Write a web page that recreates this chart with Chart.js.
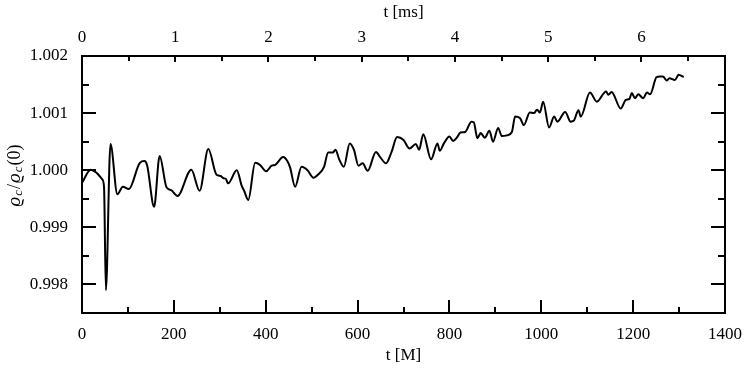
<!DOCTYPE html>
<html>
<head>
<meta charset="utf-8">
<script src="https://cdn.jsdelivr.net/npm/chart.js@4/dist/chart.umd.min.js"></script>
<style>
  body { margin: 0; background: #fff; }
  #wrap { width: 747px; height: 374px; }
</style>
</head>
<body>
<div id="wrap"><canvas id="rhoChart" width="747" height="374"></canvas></div>
<script>
// t [M] and central density normalised to its initial value
const tM = [0, 19, 31, 44, 48, 52, 62, 77, 89, 102, 126, 136, 142, 157, 169, 184, 194, 208, 238, 256,
    275, 293, 302, 308, 313, 318, 337, 348, 353, 362, 377, 388, 401, 413, 420, 438, 447, 453, 464, 478,
    491, 504, 515, 527, 536, 546, 552, 560, 570, 583, 592, 602, 611, 622, 640, 650, 662, 674, 686, 700,
    713, 727, 734, 743, 760, 774, 779, 788, 800, 808, 816, 824, 834, 848, 853, 861, 868, 877, 887, 895,
    906, 914, 925, 936, 943, 954, 962, 975, 984, 991, 997, 1004, 1017, 1028, 1035, 1052, 1064, 1071, 1081, 1086,
    1106, 1121, 1141, 1146, 1153, 1173, 1184, 1192, 1197, 1204, 1211, 1222, 1230, 1237, 1251, 1258, 1265, 1273, 1279, 1291,
    1299, 1310];
const rhoRatio = [0.99978, 1.00001, 0.99996, 0.99984, 0.99970, 0.99790, 1.00046, 0.99958, 0.99971, 0.99967,
    1.00013, 1.00016, 1.00008, 0.99936, 1.00025, 0.99970, 0.99965, 0.99955, 1.00001, 0.99964,
    1.00037, 0.99992, 0.99990, 0.99986, 0.99985, 0.99977, 1.00000, 0.99972, 0.99964, 0.99948,
    1.00013, 1.00009, 0.99998, 1.00008, 1.00009, 1.00023, 1.00016, 1.00005, 0.99971, 1.00006,
    1.00000, 0.99987, 0.99993, 1.00006, 1.00031, 1.00031, 1.00036, 1.00019, 1.00006, 1.00047,
    1.00036, 1.00008, 1.00012, 0.99999, 1.00032, 1.00022, 1.00012, 1.00032, 1.00058, 1.00053,
    1.00038, 1.00046, 1.00036, 1.00063, 1.00019, 1.00047, 1.00034, 1.00047, 1.00059, 1.00051,
    1.00057, 1.00066, 1.00067, 1.00085, 1.00084, 1.00056, 1.00065, 1.00057, 1.00069, 1.00050,
    1.00074, 1.00060, 1.00061, 1.00067, 1.00094, 1.00091, 1.00079, 1.00101, 1.00100, 1.00106,
    1.00101, 1.00120, 1.00075, 1.00094, 1.00085, 1.00102, 1.00085, 1.00087, 1.00105, 1.00094,
    1.00136, 1.00120, 1.00138, 1.00132, 1.00137, 1.00108, 1.00123, 1.00125, 1.00135, 1.00126,
    1.00133, 1.00126, 1.00136, 1.00133, 1.00163, 1.00164, 1.00164, 1.00157, 1.00161, 1.00158,
    1.00167, 1.00163];

// tick labels
const xTicksM = [0, 200, 400, 600, 800, 1000, 1200, 1400];
const xTicksMs = [0, 1, 2, 3, 4, 5, 6];
const yTicks = [0.998, 0.999, 1.000, 1.001, 1.002];

const M_PER_MS = 203.0; // 1 ms in units of M (solar mass)
const FONT = 'Liberation Serif, DejaVu Serif, serif';

const points = tM.map((t, i) => ({ x: t, y: rhoRatio[i] }));

// inward tick marks (major + minor) on all four sides, plus the y title
const inwardTicks = {
    id: 'inwardTicks',
    afterDraw(chart) {
        const ctx = chart.ctx;
        const { x, x2, y, y2 } = chart.scales;
        ctx.save();
        ctx.strokeStyle = '#000';
        ctx.lineWidth = 2;
        ctx.beginPath();
        for (let v = 0; v <= 1400; v += 100) {
            const px = Math.round(x.getPixelForValue(v));
            const len = v % 200 === 0 ? 13 : 6;
            ctx.moveTo(px, x.top); ctx.lineTo(px, x.top - len);
        }
        for (let v = 0; v <= 6.5; v += 0.5) {
            const px = Math.round(x2.getPixelForValue(v));
            const len = Number.isInteger(v) ? 6 : 5;
            ctx.moveTo(px, x2.bottom); ctx.lineTo(px, x2.bottom + len);
        }
        for (let k = 0; k <= 9; k++) {
            const v = 0.9975 + k * 0.0005;
            const len = k % 2 === 1 ? 14 : 7;
            const py = Math.round(y.getPixelForValue(v));
            ctx.moveTo(y.right, py); ctx.lineTo(y.right + len, py);
            ctx.moveTo(y2.left, py); ctx.lineTo(y2.left - len, py);
        }
        ctx.stroke();

        // y axis label: rho_c / rho_c(0)
        const parts = [
            ['ϱ', 'italic 19px ' + FONT, 0],
            ['c', 'italic 13px ' + FONT, 4],
            ['/', '18px ' + FONT, 0],
            ['ϱ', 'italic 19px ' + FONT, 0],
            ['c', 'italic 13px ' + FONT, 4],
            ['(0)', '18px ' + FONT, 0]
        ];
        let total = 0;
        parts.forEach(p => { ctx.font = p[1]; total += ctx.measureText(p[0]).width + 1; });
        ctx.translate(15, 175);
        ctx.rotate(-Math.PI / 2);
        ctx.fillStyle = '#000';
        ctx.textBaseline = 'middle';
        let cx = -total / 2;
        parts.forEach(p => {
            ctx.font = p[1];
            ctx.fillText(p[0], cx, p[2]);
            cx += ctx.measureText(p[0]).width + 1;
        });
        ctx.restore();
    }
};

const axisBorder = { display: true, color: '#000', width: 2 };
const tickFont = { family: FONT, size: 17 };
const noSidePadding = s => { s.paddingLeft = 0; s.paddingRight = 0; };

new Chart(document.getElementById('rhoChart').getContext('2d'), {
    type: 'scatter',
    data: {
        datasets: [{
            data: points,
            showLine: true,
            borderColor: '#000',
            borderWidth: 2,
            pointRadius: 0,
            cubicInterpolationMode: 'monotone',
            xAxisID: 'x',
            yAxisID: 'y'
        }]
    },
    options: {
        responsive: false,
        animation: false,
        layout: { padding: 0 },
        plugins: { legend: { display: false }, tooltip: { enabled: false } },
        scales: {
            x: {
                type: 'linear', position: 'bottom', min: 0, max: 1400,
                afterBuildTicks: s => { s.ticks = xTicksM.map(v => ({ value: v })); },
                afterFit: s => { s.height = 61; noSidePadding(s); },
                grid: { display: false, drawTicks: false },
                border: axisBorder,
                ticks: { padding: 11, font: tickFont, color: '#000', autoSkip: false, maxRotation: 0, callback: v => String(v) },
                title: { display: true, text: 't [M]', font: tickFont, color: '#000', padding: { top: 0, bottom: 8 } }
            },
            x2: {
                type: 'linear', position: 'top', min: 0, max: 1400 / M_PER_MS,
                afterBuildTicks: s => { s.ticks = xTicksMs.map(v => ({ value: v })); },
                afterFit: s => { s.height = 56; noSidePadding(s); },
                grid: { display: false, drawTicks: false },
                border: axisBorder,
                ticks: { padding: 8, font: tickFont, color: '#000', autoSkip: false, maxRotation: 0, callback: v => String(v) },
                title: { display: true, text: 't [ms]', font: tickFont, color: '#000', padding: { top: 2, bottom: 0 } }
            },
            y: {
                type: 'linear', position: 'left', min: 0.9975, max: 1.002,
                afterBuildTicks: s => { s.ticks = yTicks.map(v => ({ value: v })); },
                afterFit: s => { s.width = 82; },
                grid: { display: false, drawTicks: false },
                border: axisBorder,
                ticks: { padding: 14, font: tickFont, color: '#000', callback: v => v.toFixed(3) }
            },
            y2: {
                type: 'linear', position: 'right', min: 0.9975, max: 1.002,
                afterFit: s => { s.width = 22; },
                grid: { display: false, drawTicks: false },
                border: axisBorder,
                ticks: { display: false }
            }
        }
    },
    plugins: [inwardTicks]
});
</script>
</body>
</html>
